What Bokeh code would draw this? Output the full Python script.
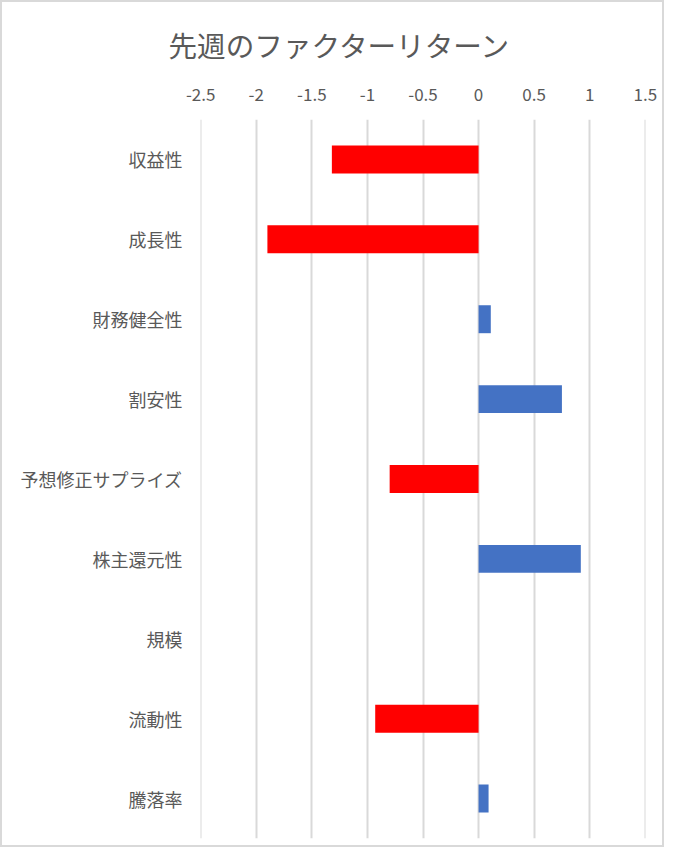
from bokeh.plotting import figure
from bokeh.models import FixedTicker, FactorRange, ColumnDataSource
from bokeh.embed import file_html
from bokeh.resources import INLINE

title_text = "先週のファクターリターン"
categories = ["収益性", "成長性", "財務健全性", "割安性", "予想修正サプライズ",
              "株主還元性", "規模", "流動性", "騰落率"]
returns = [-1.32, -1.90, 0.11, 0.75, -0.80, 0.92, 0.0, -0.93, 0.09]
tick_values = [-2.5, -2.0, -1.5, -1.0, -0.5, 0.0, 0.5, 1.0, 1.5]
tick_labels = ["-2.5", "-2", "-1.5", "-1", "-0.5", "0", "0.5", "1", "1.5"]

NEG_COLOR = "#FF0000"
POS_COLOR = "#4472C4"
FONT = "Noto Sans CJK JP"
TEXT_COLOR = "#595959"

colors = [NEG_COLOR if v < 0 else POS_COLOR for v in returns]
source = ColumnDataSource(dict(cat=categories, val=returns, color=colors))

eps = 0.002
p = figure(width=664, height=847, output_backend="svg", toolbar_location=None,
           y_range=FactorRange(*list(reversed(categories))),
           x_range=(tick_values[0] - eps, tick_values[-1] + eps),
           x_axis_location="above",
           min_border_left=198, min_border_right=21,
           min_border_top=116, min_border_bottom=11)

p.hbar(y="cat", left=0, right="val", height=0.35,
       fill_color="color", line_color=None, source=source)

p.title.text = title_text
p.title.align = "left"
p.title.offset = -32
p.title.text_font = FONT
p.title.text_font_size = "28.6px"
p.title.text_font_style = "normal"
p.title.text_color = TEXT_COLOR
p.title.standoff = 39

p.outline_line_color = None
p.background_fill_color = "white"
p.border_fill_color = "white"

xa = p.xaxis[0]
xa.ticker = FixedTicker(ticks=tick_values)
xa.major_label_overrides = {v: s for v, s in zip(tick_values, tick_labels)}
xa.axis_line_color = None
xa.major_tick_line_color = None
xa.minor_tick_line_color = None
xa.major_label_standoff = 13
xa.major_label_text_font = FONT
xa.major_label_text_font_size = "17px"
xa.major_label_text_color = TEXT_COLOR

ya = p.yaxis[0]
ya.axis_line_color = None
ya.major_tick_line_color = None
ya.minor_tick_line_color = None
ya.major_label_standoff = 12
ya.major_label_text_font = FONT
ya.major_label_text_font_size = "18px"
ya.major_label_text_color = TEXT_COLOR

p.xgrid.grid_line_color = "#d9d9d9"
p.xgrid.grid_line_width = 2
p.ygrid.grid_line_color = None

p.styles = {"border": "2px solid #d9d9d9"}

open("out.html", "w").write(file_html(p, INLINE))
